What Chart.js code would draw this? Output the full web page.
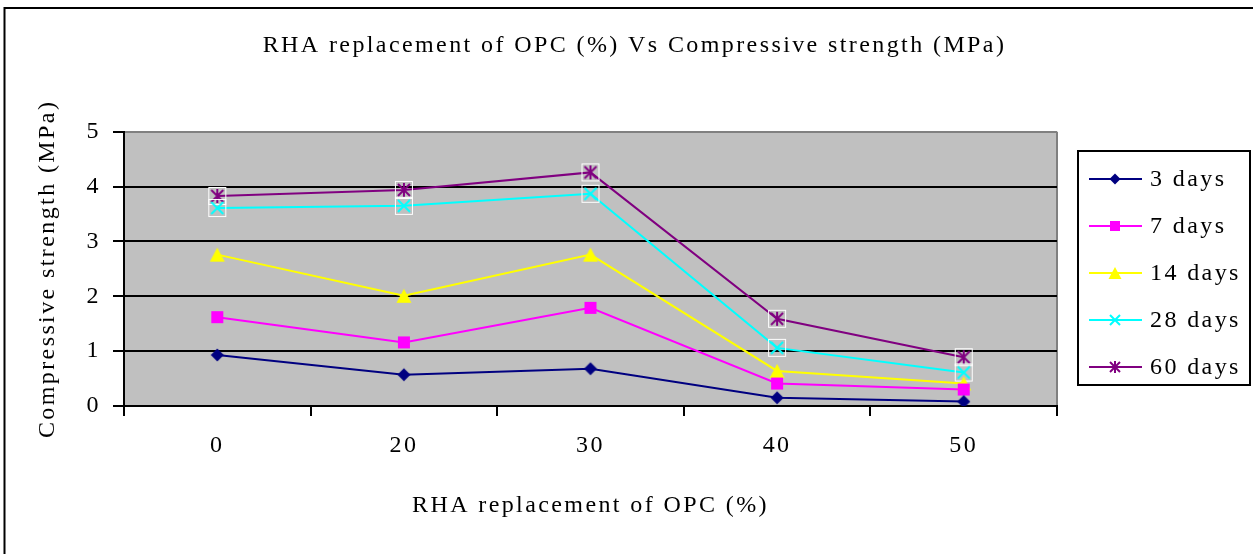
<!DOCTYPE html>
<html>
<head>
<meta charset="utf-8">
<script src="https://cdn.jsdelivr.net/npm/chart.js@4/dist/chart.umd.min.js"></script>
<style>
  html, body { margin: 0; padding: 0; background: #fff; overflow: hidden; }
</style>
</head>
<body>
<canvas id="chartView" width="1253" height="554"></canvas>
<script>
// data
var categories = ['0', '20', '30', '40', '50'];
var seriesLabels = ['3 days', '7 days', '14 days', '28 days', '60 days'];
var days3 = [0.93, 0.57, 0.68, 0.15, 0.08];
var days7 = [1.62, 1.16, 1.79, 0.41, 0.30];
var days14 = [2.76, 2.01, 2.76, 0.64, 0.41];
var days28 = [3.61, 3.65, 3.87, 1.06, 0.61];
var days60 = [3.83, 3.94, 4.26, 1.59, 0.89];
var yTicks = [0, 1, 2, 3, 4, 5];

var FONT = "'Liberation Serif', 'Times New Roman', serif";

// small marker images, Excel style
function marker(kind, color, size, boxed) {
    var s = 20;
    var c = document.createElement('canvas');
    c.width = s; c.height = s;
    var g = c.getContext('2d');
    var m = s / 2, r = size / 2;
    if (boxed) {
        g.strokeStyle = '#fff';
        g.lineWidth = 1;
        g.strokeRect(1.5, 1.5, 17, 17);
    }
    g.fillStyle = color;
    g.strokeStyle = color;
    g.beginPath();
    switch (kind) {
        case 'diamond':
            g.moveTo(m, m - r); g.lineTo(m + r, m); g.lineTo(m, m + r); g.lineTo(m - r, m);
            g.closePath(); g.fill();
            break;
        case 'square':
            g.fillRect(m - r, m - r, size, size);
            break;
        case 'triangle':
            g.moveTo(m, m - r); g.lineTo(m + r + 0.5, m + r); g.lineTo(m - r - 0.5, m + r);
            g.closePath(); g.fill();
            break;
        case 'x':
        case 'star':
            g.lineWidth = 2;
            g.moveTo(m - r, m - r); g.lineTo(m + r, m + r);
            g.moveTo(m + r, m - r); g.lineTo(m - r, m + r);
            if (kind == 'star') { g.moveTo(m, m - r - 1); g.lineTo(m, m + r + 1); }
            g.stroke();
            break;
    }
    return c;
}

var colors = ['#000080', '#FF00FF', '#FFFF00', '#00FFFF', '#800080'];
var kinds = ['diamond', 'square', 'triangle', 'x', 'star'];
var sizes = [13, 12, 14, 12, 12];
var values = [days3, days7, days14, days28, days60];

var datasets = values.map(function (v, i) {
    return {
        label: seriesLabels[i],
        data: v,
        borderColor: colors[i],
        backgroundColor: colors[i],
        borderWidth: 2,
        tension: 0,
        pointRadius: 6,
        pointStyle: marker(kinds[i], colors[i], sizes[i], i >= 3),
        legendMarker: marker(kinds[i], colors[i], sizes[i] - 2, false)
    };
});

// gray plot area + frame + legend
var plotBack = {
    id: 'plotBack',
    beforeDraw: function (chart) {
        var ctx = chart.ctx, a = chart.chartArea;
        // the original text is set wide
        ctx.letterSpacing = '2.4px';
        ctx.save();
        ctx.fillStyle = '#C0C0C0';
        ctx.fillRect(a.left, a.top, a.right - a.left, a.bottom - a.top);
        ctx.strokeStyle = '#808080';
        ctx.lineWidth = 2;
        ctx.beginPath();
        ctx.moveTo(a.right, a.top);
        ctx.lineTo(a.right, a.bottom);
        ctx.stroke();
        ctx.restore();
    },
    afterDraw: function (chart) {
        var ctx = chart.ctx;
        ctx.save();
        // outer frame
        ctx.strokeStyle = '#000';
        ctx.lineWidth = 2;
        ctx.beginPath();
        ctx.moveTo(4.5, 554);
        ctx.lineTo(4.5, 8);
        ctx.lineTo(1253, 8);
        ctx.stroke();

        // legend box
        var lx = 1078, ly = 151, lw = 172, lh = 234;
        ctx.lineWidth = 2;
        ctx.strokeRect(lx, ly, lw, lh);
        ctx.font = '24px ' + FONT;
        ctx.textBaseline = 'middle';
        ctx.textAlign = 'left';
        chart.data.datasets.forEach(function (ds, i) {
            var y = 179 + i * 47;
            ctx.strokeStyle = ds.borderColor;
            ctx.lineWidth = 2;
            ctx.beginPath();
            ctx.moveTo(1089, y);
            ctx.lineTo(1142, y);
            ctx.stroke();
            var mk = ds.legendMarker;
            ctx.drawImage(mk, 1115 - mk.width / 2, y - mk.height / 2);
            ctx.fillStyle = '#000';
            ctx.fillText(ds.label, 1150, y + 1);
        });
        ctx.restore();
    }
};

var ctx = document.getElementById('chartView').getContext('2d');
new Chart(ctx, {
    type: 'line',
    data: {
        labels: categories,
        datasets: datasets
    },
    plugins: [plotBack],
    options: {
        responsive: false,
        animation: false,
        layout: { padding: { left: 16, right: 0, top: 0, bottom: 0 } },
        plugins: {
            legend: { display: false },
            tooltip: { enabled: false },
            title: {
                display: true,
                text: 'RHA replacement of OPC (%) Vs Compressive strength (MPa)',
                color: '#000',
                font: { family: FONT, size: 24, weight: 'normal' },
                padding: { top: 31, bottom: 72 }
            }
        },
        scales: {
            x: {
                type: 'category',
                offset: true,
                border: { color: '#000', width: 2 },
                grid: { offset: true, drawOnChartArea: false, tickLength: 10, color: '#000', lineWidth: 2 },
                ticks: { color: '#000', font: { family: FONT, size: 24 }, padding: 15, maxRotation: 0 },
                title: {
                    display: true,
                    text: 'RHA replacement of OPC (%)',
                    color: '#000',
                    font: { family: FONT, size: 24 },
                    padding: { top: 0, bottom: 34 }
                },
                afterFit: function (s) { s.height = 148; }
            },
            y: {
                min: 0,
                max: 5,
                border: { color: '#000', width: 2 },
                grid: {
                    color: function (c) { return c.tick && c.tick.value == 5 ? '#808080' : '#000'; },
                    tickColor: '#000',
                    lineWidth: 2,
                    tickLength: 11
                },
                afterBuildTicks: function (s) { s.ticks = yTicks.map(function (v) { return { value: v }; }); },
                ticks: { color: '#000', font: { family: FONT, size: 24 }, padding: 12 },
                title: {
                    display: true,
                    text: 'Compressive strength (MPa)',
                    color: '#000',
                    font: { family: FONT, size: 24 },
                    padding: { top: 17, bottom: 0 }
                },
                afterFit: function (s) { s.width = 108; }
            },
            yRight: {
                position: 'right',
                display: true,
                grid: { display: false },
                border: { display: false },
                ticks: { display: false },
                afterFit: function (s) { s.width = 196; }
            }
        }
    }
});
</script>
</body>
</html>
